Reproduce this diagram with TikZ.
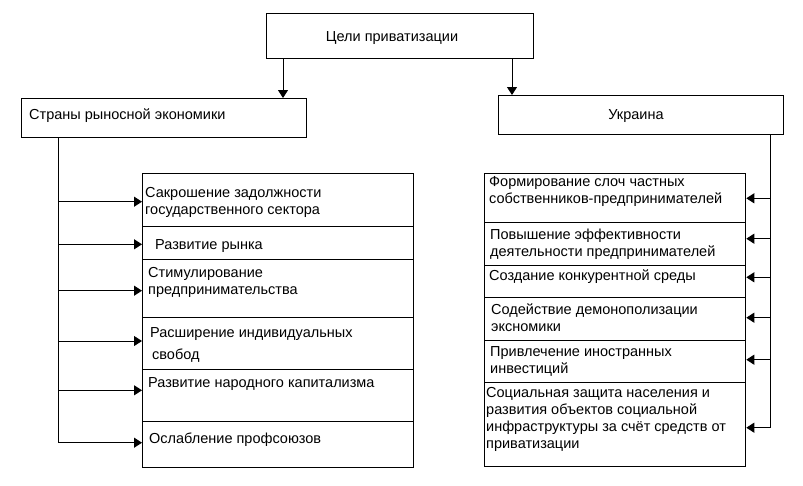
\documentclass[tikz,border=0pt]{standalone}
\usepackage{fontspec}
\setmainfont{Liberation Sans}
\usetikzlibrary{arrows.meta}
\begin{document}
\begin{tikzpicture}[x=1pt,y=-1pt,
  box/.style={draw,line width=1pt,rectangle,inner sep=0pt,anchor=north west},
  txt/.style={anchor=west,align=left,inner sep=0pt,font=\fontsize{14.5}{17}\selectfont},
  ln/.style={line width=1pt},
  arr/.style={line width=1pt,-{Triangle[length=8pt,width=10pt]}}]
\useasboundingbox (0,0) rectangle (803,485);
% top-level boxes
\node[box,minimum width=267,minimum height=45] (T) at (266,13) {};
\node[txt,anchor=center] (Tt) at (392,38) {Цели приватизации};
\node[box,minimum width=285,minimum height=39] (L) at (21,98) {};
\node[txt] (Lt) at (29,116) {Страны рыносной экономики};
\node[box,minimum width=285,minimum height=39] (R) at (498,95) {};
\node[txt,anchor=center] (Rt) at (636,116) {Украина};
\draw[arr] (T.south -| 283,0) -- (L.north -| 283,0);
\draw[arr] (T.south -| 512,0) -- (R.north -| 512,0);
% left cells
\node[box,minimum width=271,minimum height=53] (L1) at (142,173.3) {};
\node[box,minimum width=271,minimum height=33] (L2) at (142,226.3) {};
\node[box,minimum width=271,minimum height=57.7] (L3) at (142,259.3) {};
\node[box,minimum width=271,minimum height=52.3] (L4) at (142,317) {};
\node[box,minimum width=271,minimum height=52] (L5) at (142,369.3) {};
\node[box,minimum width=271,minimum height=45.4] (L6) at (142,421.3) {};
\node[txt] (L1t) at (145,202) {Сакрошение задолжности\\государственного сектора};
\node[txt] (L2t) at (155,246) {Развитие рынка};
\node[txt] (L3t) at (148,282.5) {Стимулирование\\предпринимательства};
\node[txt] (L4t) at (150,334) {Расширение индивидуальных};
\node[txt] (L4u) at (152,356) {свобод};
\node[txt] (L5t) at (148,384) {Развитие народного капитализма};
\node[txt] (L6t) at (149,440) {Ослабление профсоюзов};
% right cells
\node[box,minimum width=261,minimum height=49.3] (R1) at (484.3,172.7) {};
\node[box,minimum width=261,minimum height=43.3] (R2) at (484.3,222) {};
\node[box,minimum width=261,minimum height=31.7] (R3) at (484.3,265.3) {};
\node[box,minimum width=261,minimum height=43.3] (R4) at (484.3,297) {};
\node[box,minimum width=261,minimum height=42] (R5) at (484.3,340.3) {};
\node[box,minimum width=261,minimum height=83.7] (R6) at (484.3,382.3) {};
\node[txt] (R1t) at (489,191.5) {Формирование слоч частных\\собственников-предпринимателей};
\node[txt] (R2t) at (490,244.5) {Повышение эффективности\\деятельности предпринимателей};
\node[txt] (R3t) at (489,277) {Создание конкурентной среды};
\node[txt] (R4t) at (491,317.5) {Содействие демонополизации\\экснoмики};
\node[txt] (R5t) at (490,361.5) {Привлечение иностранных\\инвестиций};
\node[txt] (R6t) at (486,419) {Социальная защита населения и\\развития объектов социальной\\инфраструктуры за счёт средств от\\приватизации};
% left trunk
\coordinate (lt) at (58,137);
\coordinate (l1) at (58,201.7);
\coordinate (l2) at (58,244.3);
\coordinate (l3) at (58,290.7);
\coordinate (l4) at (58,341);
\coordinate (l5) at (58,390.3);
\coordinate (l6) at (58,442.7);
\draw[ln] (lt) -- (l6);
\foreach \i in {1,...,6} \draw[arr] (l\i) -- (l\i -| L\i.west);
% right trunk
\coordinate (rt) at (770.7,134.3);
\coordinate (r1) at (770.7,198.3);
\coordinate (r2) at (770.7,238.7);
\coordinate (r3) at (770.7,277.3);
\coordinate (r4) at (770.7,317.7);
\coordinate (r5) at (770.7,359.7);
\coordinate (r6) at (770.7,427.7);
\draw[ln] (rt) -- (r6);
\foreach \i in {1,...,6} \draw[arr] (r\i) -- (r\i -| R\i.east);
\end{tikzpicture}
\end{document}
